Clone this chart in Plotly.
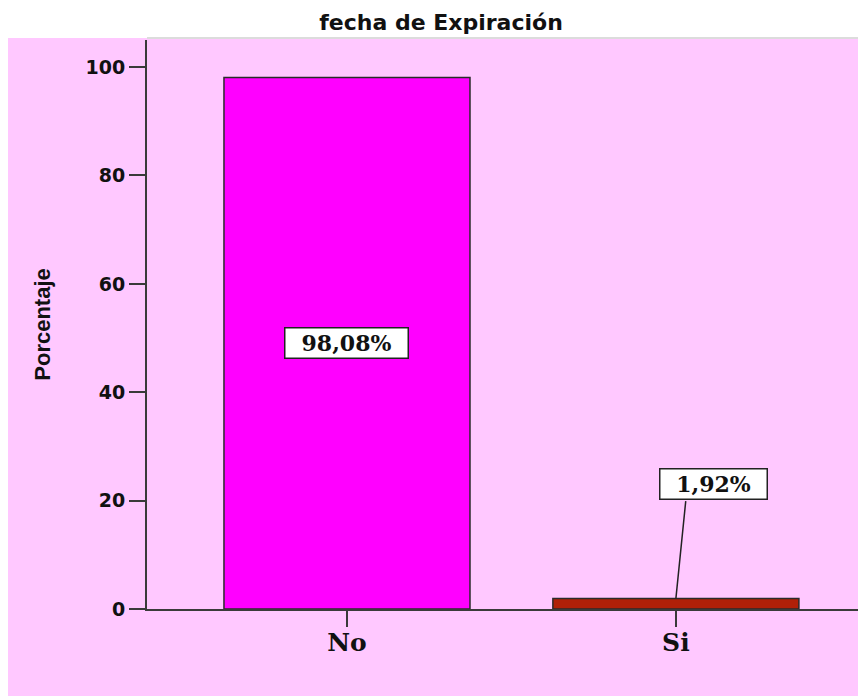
import plotly.graph_objects as go

# ---- data ----
categories = ["No", "Si"]
percentages = [98.08, 1.92]
bar_colors = ["#FF00FF", "#B02008"]
y_ticks = [0, 20, 40, 60, 80, 100]
title_text = "fecha de Expiración"
y_title = "Porcentaje"

# the page body has an 8px margin, so the figure starts at (8, 8) in the window
OFF = 8
W, H = 866 - OFF, 696 - OFF
ML, MR, MT, MB = 147 - OFF, 0, 40 - OFF, 696 - 609
PW, PH = W - ML - MR, H - MT - MB

def px_to_paper_x(px):
    return (px - OFF - ML) / PW

def px_to_paper_y(py):
    return (H - MB - (py - OFF)) / PH

fig = go.Figure()
fig.add_trace(go.Bar(
    x=categories, y=percentages,
    marker=dict(color=bar_colors, line=dict(color="#2a2a2a", width=1.5)),
    width=0.748, hoverinfo="skip",
))

labels = [f"{v:.2f}%".replace(".", ",") for v in percentages]
box_font = dict(family="DejaVu Serif, Liberation Serif, serif", size=22, color="#111",
                weight="bold")
for cat, v, lab in zip(categories, percentages, labels):
    if v > 10:
        fig.add_annotation(x=cat, y=v / 2, text=lab, showarrow=False,
                           bgcolor="white", bordercolor="#222", borderwidth=1.5,
                           borderpad=1, width=120, height=27, font=box_font)
    else:
        # leader line
        fig.add_annotation(x=cat, y=v, text="", showarrow=True, arrowhead=0,
                           arrowwidth=1.5, arrowcolor="#222", ax=10, ay=-99)
        fig.add_annotation(x=cat, y=v, text=lab, showarrow=True,
                           arrowcolor="rgba(0,0,0,0)", ax=38, ay=-115,
                           bgcolor="white", bordercolor="#222", borderwidth=1.5,
                           borderpad=1, width=104, height=27, font=box_font)

# pink chart background and faint top border
fig.add_shape(type="rect", xref="paper", yref="paper",
              x0=px_to_paper_x(8), x1=1.0, y0=px_to_paper_y(696), y1=px_to_paper_y(38),
              fillcolor="#FFC8FF", line=dict(width=0), layer="below")
fig.add_shape(type="line", xref="paper", yref="paper",
              x0=0, x1=1.0, y0=px_to_paper_y(38), y1=px_to_paper_y(38),
              line=dict(color="#dcdcdc", width=2), layer="below")

fig.update_layout(
    width=W, height=H,
    margin=dict(l=ML, r=MR, t=MT, b=MB),
    paper_bgcolor="white", plot_bgcolor="rgba(0,0,0,0)",
    showlegend=False,
    title=dict(text=f"<b>{title_text}</b>", x=(441 - OFF) / W, xref="container",
               xanchor="center", y=1 - (22 - OFF) / H, yref="container", yanchor="middle",
               font=dict(family="DejaVu Sans, Liberation Sans, sans-serif", size=22, color="#111")),
    xaxis=dict(range=[-0.608, 1.578], showline=True, linecolor="#3a3a3a", linewidth=2,
               ticks="outside", ticklen=16, tickwidth=2, tickcolor="#3a3a3a",
               showgrid=False, zeroline=False, ticklabelstandoff=-6,
               tickfont=dict(family="DejaVu Serif, Liberation Serif, serif", size=25,
                             color="#111", weight="bold")),
    yaxis=dict(range=[0, 105], tickvals=y_ticks, showline=True, linecolor="#3a3a3a",
               linewidth=2, ticks="outside", ticklen=16, tickwidth=2, tickcolor="#3a3a3a",
               showgrid=False, zeroline=False,
               tickfont=dict(family="DejaVu Sans, Liberation Sans, sans-serif", size=19,
                             color="#111", weight="bold"),
               title=dict(text=f"<b>{y_title}</b>", standoff=29,
                          font=dict(family="Liberation Sans Narrow, Arial Narrow, Liberation Sans, sans-serif",
                                    size=22, color="#111"))),
)

fig.write_html("out.html")
